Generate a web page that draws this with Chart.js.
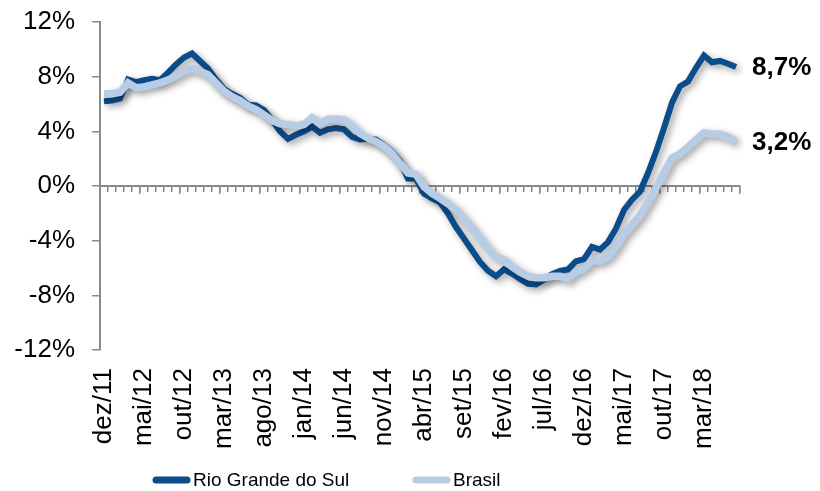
<!DOCTYPE html>
<html>
<head>
<meta charset="utf-8">
<script src="https://cdn.jsdelivr.net/npm/chart.js@4/dist/chart.umd.min.js"></script>
<style>
  html, body { margin: 0; padding: 0; background: #fff; }
  #wrap { width: 820px; height: 491px; position: relative; }
</style>
</head>
<body>
<div id="wrap"><canvas id="chart"></canvas></div>
<script>
// monthly series, dez/11 .. jul/18
const monthNames = ['jan', 'fev', 'mar', 'abr', 'mai', 'jun', 'jul', 'ago', 'set', 'out', 'nov', 'dez'];
const firstMonth = 11;   // dez
const firstYear = 11;
const monthCount = 80;

const rioGrandeDoSul = [
    6.2, 6.25, 6.4, 7.8, 7.6, 7.75, 7.85, 7.75, 8.3, 8.9,
    9.4, 9.7, 9.15, 8.6, 7.8, 7.1, 6.75, 6.45, 5.95, 5.9,
    5.55, 4.85, 4.0, 3.45, 3.75, 4.0, 4.35, 3.9, 4.15, 4.25,
    4.15, 3.6, 3.4, 3.45, 3.4, 3.0, 2.5, 1.8, 0.55, 0.55,
    -0.55, -0.9, -1.2, -2.0, -3.0, -3.85, -4.7, -5.55, -6.2, -6.6,
    -6.1, -6.4, -6.8, -7.15, -7.2, -6.85, -6.45, -6.2, -6.1, -5.5,
    -5.35, -4.45, -4.65, -4.1, -3.1, -1.75, -1.0, -0.4, 0.95, 2.5,
    4.25, 6.1, 7.3, 7.65, 8.65, 9.55, 9.05, 9.15, 8.95, 8.7
];
const brasil = [
    6.75, 6.75, 6.85, 7.55, 7.2, 7.25, 7.4, 7.55, 7.75, 8.05,
    8.4, 8.6, 8.4, 8.15, 7.55, 6.95, 6.55, 6.25, 5.85, 5.6,
    5.2, 4.8, 4.55, 4.5, 4.4, 4.5, 5.0, 4.55, 4.9, 4.9,
    4.85, 4.4, 3.85, 3.5, 3.25, 2.9, 2.4, 1.65, 0.95, 0.85,
    -0.05, -0.55, -0.9, -1.3, -1.75, -2.4, -3.1, -3.85, -4.6, -5.2,
    -5.4, -5.9, -6.3, -6.6, -6.7, -6.7, -6.6, -6.6, -6.8, -6.3,
    -6.05, -5.45, -5.5, -5.2, -4.45, -3.5, -2.85, -2.15, -1.2, -0.15,
    0.95, 2.05, 2.35, 2.85, 3.4, 3.9, 3.8, 3.8, 3.6, 3.25
];
const endLabels = ['8,7%', '3,2%'];
const seriesNames = ['Rio Grande do Sul', 'Brasil'];

const labels = [];
for (let i = 0; i < monthCount; i++) {
    const m = (firstMonth + i) % 12;
    const y = firstYear + Math.floor((firstMonth + i) / 12);
    labels.push(monthNames[m] + '/' + y);
}

const darkBlue = '#0b4c8a';
const lightBlue = '#b7cde5';
const axisGray = '#8a8a8a';

Chart.defaults.font.family = "'Liberation Sans', Arial, sans-serif";
Chart.defaults.color = '#000';

// soft drop shadow under each line
const lineShadow = {
    id: 'lineShadow',
    beforeDatasetDraw(chart) {
        const ctx = chart.ctx;
        ctx.save();
        ctx.shadowColor = 'rgba(0,0,0,0.38)';
        ctx.shadowBlur = 7;
        ctx.shadowOffsetX = 3;
        ctx.shadowOffsetY = 3;
    },
    afterDatasetDraw(chart) {
        chart.ctx.restore();
    }
};

// last value written at the right end of each line
const endValueLabels = {
    id: 'endValueLabels',
    afterDatasetsDraw(chart) {
        const ctx = chart.ctx;
        ctx.save();
        ctx.font = "bold 26px 'Liberation Sans', Arial, sans-serif";
        ctx.fillStyle = '#000';
        ctx.textAlign = 'left';
        ctx.textBaseline = 'middle';
        chart.data.datasets.forEach((ds, i) => {
            const pts = chart.getDatasetMeta(i).data;
            const last = pts[pts.length - 1];
            ctx.fillText(endLabels[i], last.x + 16, last.y + 1);
        });
        ctx.restore();
    }
};

// legend under the chart, line samples + names
const bottomLegend = {
    id: 'bottomLegend',
    afterDraw(chart) {
        const ctx = chart.ctx;
        const starts = [153, 413];
        const y = 480;
        ctx.save();
        ctx.font = "19px 'Liberation Sans', Arial, sans-serif";
        ctx.textBaseline = 'middle';
        ctx.textAlign = 'left';
        chart.data.datasets.forEach((ds, i) => {
            const x = starts[i];
            ctx.strokeStyle = ds.borderColor;
            ctx.lineWidth = 7;
            ctx.lineCap = 'round';
            ctx.beginPath();
            ctx.moveTo(x + 3, y);
            ctx.lineTo(x + 34, y);
            ctx.stroke();
            ctx.fillStyle = '#000';
            ctx.fillText(ds.label, x + 40, y + 1);
        });
        ctx.restore();
    }
};

const ctx = document.getElementById('chart').getContext('2d');
new Chart(ctx, {
    type: 'line',
    data: {
        labels: labels,
        datasets: [{
            label: seriesNames[0],
            data: rioGrandeDoSul,
            borderColor: darkBlue,
            backgroundColor: darkBlue,
            borderWidth: 6,
            pointRadius: 0,
            tension: 0,
            order: 1
        }, {
            label: seriesNames[1],
            data: brasil,
            borderColor: lightBlue,
            backgroundColor: lightBlue,
            borderWidth: 7.5,
            pointRadius: 0,
            tension: 0,
            order: 0
        }]
    },
    options: {
        responsive: true,
        maintainAspectRatio: false,
        animation: false,
        layout: {
            padding: { left: 14, top: 22, right: 80, bottom: 24 }
        },
        plugins: {
            legend: { display: false },
            tooltip: { enabled: false }
        },
        scales: {
            x: {
                type: 'category',
                offset: true,
                grid: { display: false, drawTicks: false },
                border: { display: false },
                ticks: {
                    autoSkip: false,
                    maxRotation: 90,
                    minRotation: 90,
                    padding: 18,
                    font: { size: 26 },
                    callback: (v, i) => (i % 5 === 0 ? labels[i] : '')
                }
            },
            xZero: {
                type: 'category',
                position: { y: 0 },
                offset: true,
                grid: {
                    offset: true,
                    drawOnChartArea: false,
                    tickLength: 5,
                    color: axisGray,
                    lineWidth: 1.5
                },
                border: { display: true, color: axisGray, width: 2 },
                ticks: { display: false }
            },
            xZeroMajor: {
                type: 'category',
                position: { y: 0 },
                offset: true,
                grid: {
                    offset: true,
                    drawOnChartArea: false,
                    tickLength: 8,
                    lineWidth: 1.5,
                    color: (c) => (c.index === undefined || c.index % 5 === 0) ? axisGray : 'rgba(0,0,0,0)'
                },
                border: { display: false },
                ticks: { display: false }
            },
            y: {
                min: -12,
                max: 12,
                afterFit: (scale) => {
                    scale.width = 86;
                    scale.paddingTop = 0;
                    scale.paddingBottom = 0;
                },
                grid: {
                    drawOnChartArea: false,
                    tickLength: 8,
                    color: axisGray,
                    lineWidth: 1.5
                },
                border: { display: true, color: axisGray, width: 2 },
                ticks: {
                    stepSize: 4,
                    padding: 17,
                    font: { size: 26 },
                    callback: (v) => v + '%'
                }
            }
        }
    },
    plugins: [lineShadow, endValueLabels, bottomLegend]
});
</script>
</body>
</html>
